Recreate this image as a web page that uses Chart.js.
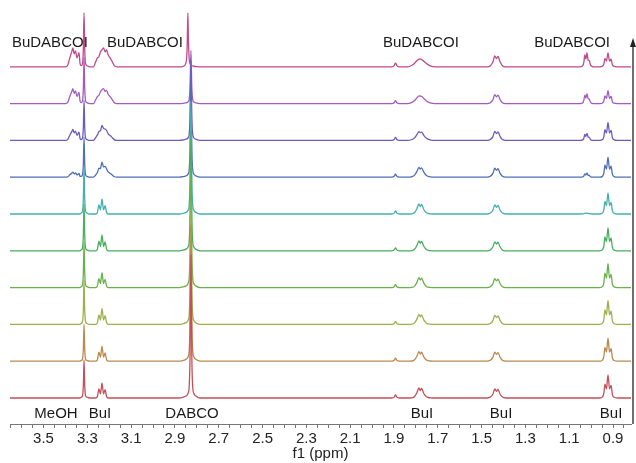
<!DOCTYPE html>
<html><head><meta charset="utf-8">
<script src="https://cdn.jsdelivr.net/npm/chart.js@4/dist/chart.umd.min.js"></script>
<style>html,body{margin:0;background:#fff}canvas{display:block}</style>
</head><body>
<canvas id="nmr" width="636" height="463"></canvas>
<script>
// stacked 1H NMR traces, index 0 = bottom trace (red) ... 9 = top trace (magenta)
const traceColors = ['#c4505a','#b98a4e','#9cb04e','#6ab04c','#4aae5e','#46b0b0','#4e6fb8','#6a5cc0','#a25cc0','#c04a8a'];

// x axis
const ppmMin = 0.818, ppmMax = 3.653;
const tickLabels = [3.5,3.3,3.1,2.9,2.7,2.5,2.3,2.1,1.9,1.7,1.5,1.3,1.1,0.9];

// shift points (ppm) of each region and the relative line shapes
const leftPpm      = [3.400,3.389,3.380,3.370,3.366,3.360,3.354,3.347,3.338,3.333];
const bdLeftShape  = [0,0.1,0.47,0.84,1,0.68,0.84,0.47,0.74,0.15];
const meohPpm      = [3.328,3.322,3.318,3.315,3.312,3.308,3.302,3.290];
const meohShape    = [0.02,0.06,0.35,1,0.35,0.06,0.02,0];
const rightPpm     = [3.272,3.262,3.254,3.247,3.240,3.233,3.226,3.219,3.212,3.205,3.196,3.186,3.176,3.165];
const buiTripShape = [0,0,0.1,0.6,0.27,1,0.27,0.55,0.1,0,0,0,0,0];
const bdRightShape = [0,0.26,0.47,0.53,0.79,0.89,1,0.79,0.89,0.63,0.47,0.26,0.05,0];
const dabcoPpm     = [2.880,2.862,2.852,2.846,2.8435,2.841,2.8385,2.835,2.831,2.827,2.823,2.819,2.813,2.803,2.785];
const dabcoShape   = [0,0.006,0.012,0.018,0.022,0.03,0.04,0.08,0.3,1,0.3,0.08,0.03,0.012,0];
const dabco2Shape  = [0,0.01,0.05,0.2,0.5,1,0.5,0.15,0.06,0.03,0.02,0.015,0.01,0.005,0];
const smallPpm     = [1.910,1.899,1.893,1.887,1.876];
const smallShape   = [0,0.3,1,0.3,0];
const quintPpm     = [1.840,1.818,1.806,1.796,1.786,1.780,1.774,1.764,1.752,1.735,1.712];
const buiQuintShape= [0,0.02,0.15,0.5,1,0.75,0.95,0.45,0.12,0.02,0];
const bdQuintShape = [0,0.2,0.45,0.75,0.95,1,0.9,0.7,0.4,0.12,0];
const sextPpm      = [1.475,1.460,1.448,1.440,1.432,1.425,1.416,1.405,1.390];
const sextShape    = [0,0.1,0.45,1,0.75,0.95,0.45,0.1,0];
const bdMePpm      = [1.050,1.038,1.033,1.029,1.024,1.019,1.014,1.009,1.002,0.990];
const bdMeShape    = [0,0.08,0.35,0.85,0.55,1,0.5,0.45,0.1,0];
const buiMePpm     = [0.960,0.948,0.942,0.937,0.930,0.923,0.916,0.909,0.903,0.895,0.880];
const buiMeShape   = [0,0.05,0.2,0.6,0.4,1,0.4,0.55,0.15,0.03,0];

// peak heights per trace (bottom -> top)
const bdLeft   = [0,0,0,0,0,0,5,11,15,19];
const meoh     = [38,37,44,45,47,47,40,40,46,54];
const buiTrip  = [15,15,16,15,16,15,7.5,5.6,0.8,0];
const bdRight  = [0,0,0,0,0,0,8.4,10.5,14.8,19];
const dabco    = [143,136,124,122,120,113,97,80,53,0];
const dabco2   = [0,0,0,0,0,0,0,0,0,54];
const small189 = [3,3,3,3,3,3,3,3,3,4];
const buiQuint = [10,9.5,10,10,10,10,8,5,2,0];
const bdQuint  = [0,0,0,0,0,0,2,4,6,8];
const buiSext  = [9,9,9,9,9,9,9,9,9,11];
const bdMe     = [0,0,0,0,0,1,4,7,10,14];
const buiMe    = [23,23,24,24,23,21,20,18,13,14];

const topNotes    = [['BuDABCOI',3.471],['BuDABCOI',3.037],['BuDABCOI',1.777],['BuDABCOI',1.087]];
const bottomNotes = [['MeOH',3.443],['BuI',3.242],['DABCO',2.822],['BuI',1.772],['BuI',1.411],['BuI',0.909]];

const regions = [
  {ppm:leftPpm,  parts:[[bdLeftShape,bdLeft]]},
  {ppm:meohPpm,  parts:[[meohShape,meoh]]},
  {ppm:rightPpm, parts:[[buiTripShape,buiTrip],[bdRightShape,bdRight]]},
  {ppm:dabcoPpm, parts:[[dabcoShape,dabco],[dabco2Shape,dabco2]]},
  {ppm:smallPpm, parts:[[smallShape,small189]]},
  {ppm:quintPpm, parts:[[buiQuintShape,buiQuint],[bdQuintShape,bdQuint]]},
  {ppm:sextPpm,  parts:[[sextShape,buiSext]]},
  {ppm:bdMePpm,  parts:[[bdMeShape,bdMe]]},
  {ppm:buiMePpm, parts:[[buiMeShape,buiMe]]}
];

const stackStep = 36.8;
const datasets = traceColors.map((col,i)=>{
  const base = i*stackStep;
  const pts = [{x:3.66,y:base}];
  regions.forEach(r=>r.ppm.forEach((x,j)=>{
    pts.push({x, y: base + r.parts.reduce((s,[shape,h])=>s+shape[j]*h[i],0)});
  }));
  pts.push({x:0.81,y:base});
  return {data:pts, borderColor:col, borderWidth:1.3, pointRadius:0, fill:false,
    cubicInterpolationMode:'monotone'};
});

const FONT = "'Liberation Sans', Arial, sans-serif";
Chart.defaults.font.family = FONT;

const notesPlugin = {
  id:'notes',
  afterDraw(chart){
    const {ctx, chartArea:ca, scales:{x}} = chart;
    ctx.save();
    ctx.fillStyle = '#1a1a1a';
    ctx.font = '15px ' + FONT;
    ctx.textAlign = 'center';
    ctx.textBaseline = 'middle';
    topNotes.forEach(([t,p])=>ctx.fillText(t, x.getPixelForValue(p), 43));
    bottomNotes.forEach(([t,p])=>ctx.fillText(t, x.getPixelForValue(p), ca.bottom-10));
    // time arrow on the right
    const ax = ca.right + 2;
    ctx.strokeStyle = '#222'; ctx.lineWidth = 1.3;
    ctx.beginPath(); ctx.moveTo(ax, ca.bottom); ctx.lineTo(ax, 44); ctx.stroke();
    ctx.fillStyle = '#222';
    ctx.beginPath(); ctx.moveTo(ax, 38); ctx.lineTo(ax-3, 47); ctx.lineTo(ax+3, 47); ctx.closePath(); ctx.fill();
    ctx.restore();
  }
};

new Chart(document.getElementById('nmr'), {
  type:'line',
  data:{datasets},
  plugins:[notesPlugin],
  options:{
    responsive:false, animation:false,
    layout:{padding:{left:10,right:5,top:0,bottom:0}},
    plugins:{legend:{display:false}, tooltip:{enabled:false}},
    scales:{
      x:{type:'linear', reverse:true, min:ppmMin, max:ppmMax,
        afterFit:s=>{s.height=39;},
        afterBuildTicks:s=>{
          const t=[]; for(let v=3.65; v>0.84; v-=0.05) t.push({value:+v.toFixed(2)});
          s.ticks=t;
        },
        ticks:{autoSkip:false, maxRotation:0, padding:2, color:'#222', font:{size:15},
          callback:v=>tickLabels.some(l=>Math.abs(l-v)<1e-6)?v.toFixed(1):''},
        grid:{drawOnChartArea:false, tickLength:4, color:'#777'},
        border:{color:'#777', width:1},
        title:{display:true, text:'f1 (ppm)', color:'#222', font:{size:15}, padding:{top:0,bottom:0}}
      },
      y:{display:false, min:-26, max:398}
    }
  }
});
</script>
</body></html>
